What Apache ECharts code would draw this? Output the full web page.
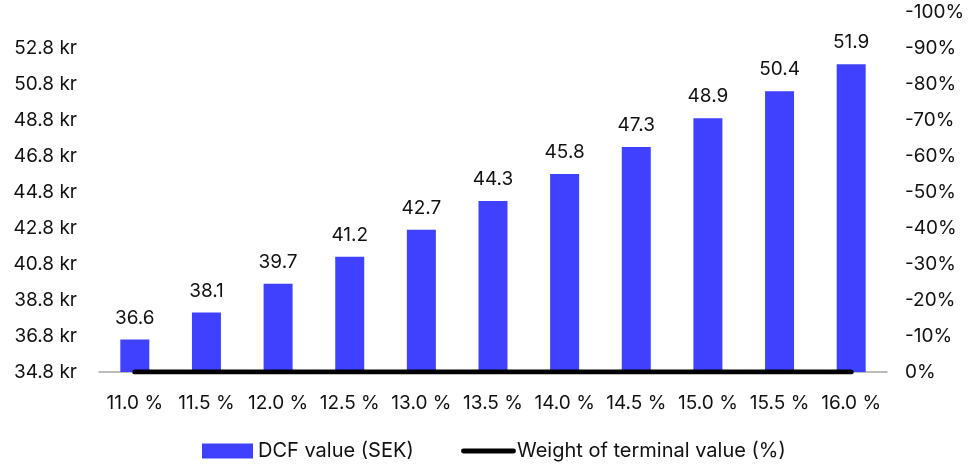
<!DOCTYPE html>
<html>
<head>
<meta charset="utf-8">
<script src="https://cdn.jsdelivr.net/npm/echarts@6/dist/echarts.min.js"></script>
<style>
  html, body { margin: 0; padding: 0; background: #fff; }
  #chart { width: 971px; height: 465px; }
</style>
</head>
<body>
<div id="chart"></div>
<script>
// WACC sensitivity: DCF value per share and weight of terminal value
const categories = ['11.0 %', '11.5 %', '12.0 %', '12.5 %', '13.0 %', '13.5 %', '14.0 %', '14.5 %', '15.0 %', '15.5 %', '16.0 %'];
const dcfValues = [36.6, 38.1, 39.7, 41.2, 42.7, 44.3, 45.8, 47.3, 48.9, 50.4, 51.9];
const terminalWeight = [0, 0, 0, 0, 0, 0, 0, 0, 0, 0, 0];
const leftMin = 34.8, leftMax = 54.8, leftStep = 2;
const rightMin = -100, rightMax = 0, rightStep = 10;

const FONT = 'Inter, "Noto Sans", sans-serif';
const INK = '#111';
const chart = echarts.init(document.getElementById('chart'), null, { renderer: 'canvas' });

chart.setOption({
  animation: false,
  backgroundColor: '#ffffff',
  textStyle: { fontFamily: FONT },
  grid: { left: 99, right: 84, top: 12, bottom: 93, containLabel: false },
  legend: [
    {
      data: [{ name: 'DCF value (SEK)', icon: 'rect' }],
      left: 202, top: 441, padding: 0,
      itemWidth: 51, itemHeight: 15, itemGap: 0,
      textStyle: { fontFamily: FONT, fontSize: 20, color: INK, padding: [0, 0, 0, 0] },
      selectedMode: false
    },
    {
      data: [{ name: 'Weight of terminal value (%)', icon: 'path://M2.5,0 L53.5,0 A2.5,2.5 0 0 1 53.5,5 L2.5,5 A2.5,2.5 0 0 1 2.5,0 Z' }],
      left: 461, top: 441, padding: 0,
      itemWidth: 55, itemHeight: 5, itemGap: 0,
      textStyle: { fontFamily: FONT, fontSize: 20, color: INK, padding: [0, 0, 0, -4] },
      selectedMode: false
    }
  ],
  xAxis: {
    type: 'category',
    data: categories,
    axisLine: { show: true, lineStyle: { color: '#a6a6a6', width: 1.5 } },
    axisTick: { show: false },
    axisLabel: { color: INK, fontSize: 19, fontFamily: FONT, margin: 22, interval: 0, hideOverlap: false }
  },
  yAxis: [
    {
      type: 'value',
      min: leftMin, max: leftMax, interval: leftStep,
      splitLine: { show: false },
      axisLine: { show: false },
      axisTick: { show: false },
      axisLabel: {
        color: INK, fontSize: 19, fontFamily: FONT, margin: 22,
        formatter: v => (v > leftMax - leftStep / 2 ? '' : v.toFixed(1) + ' kr')
      }
    },
    {
      type: 'value',
      min: rightMin, max: rightMax, interval: rightStep,
      inverse: true,
      position: 'right',
      splitLine: { show: false },
      axisLine: { show: false },
      axisTick: { show: false },
      axisLabel: {
        color: INK, fontSize: 19, fontFamily: FONT, margin: 18,
        formatter: v => Math.round(v) + '%'
      }
    }
  ],
  series: [
    {
      name: 'DCF value (SEK)',
      type: 'bar',
      yAxisIndex: 0,
      data: dcfValues,
      barWidth: 29,
      itemStyle: { color: '#4040ff' },
      label: {
        show: true, position: 'top', distance: 12,
        color: INK, fontSize: 19, fontFamily: FONT,
        formatter: p => p.value.toFixed(1)
      }
    },
    {
      name: 'Weight of terminal value (%)',
      type: 'line',
      yAxisIndex: 1,
      data: terminalWeight,
      symbol: 'none',
      itemStyle: { color: '#000' },
      lineStyle: { color: '#000', width: 5, cap: 'round' },
      z: 5
    }
  ]
});
</script>
</body>
</html>
